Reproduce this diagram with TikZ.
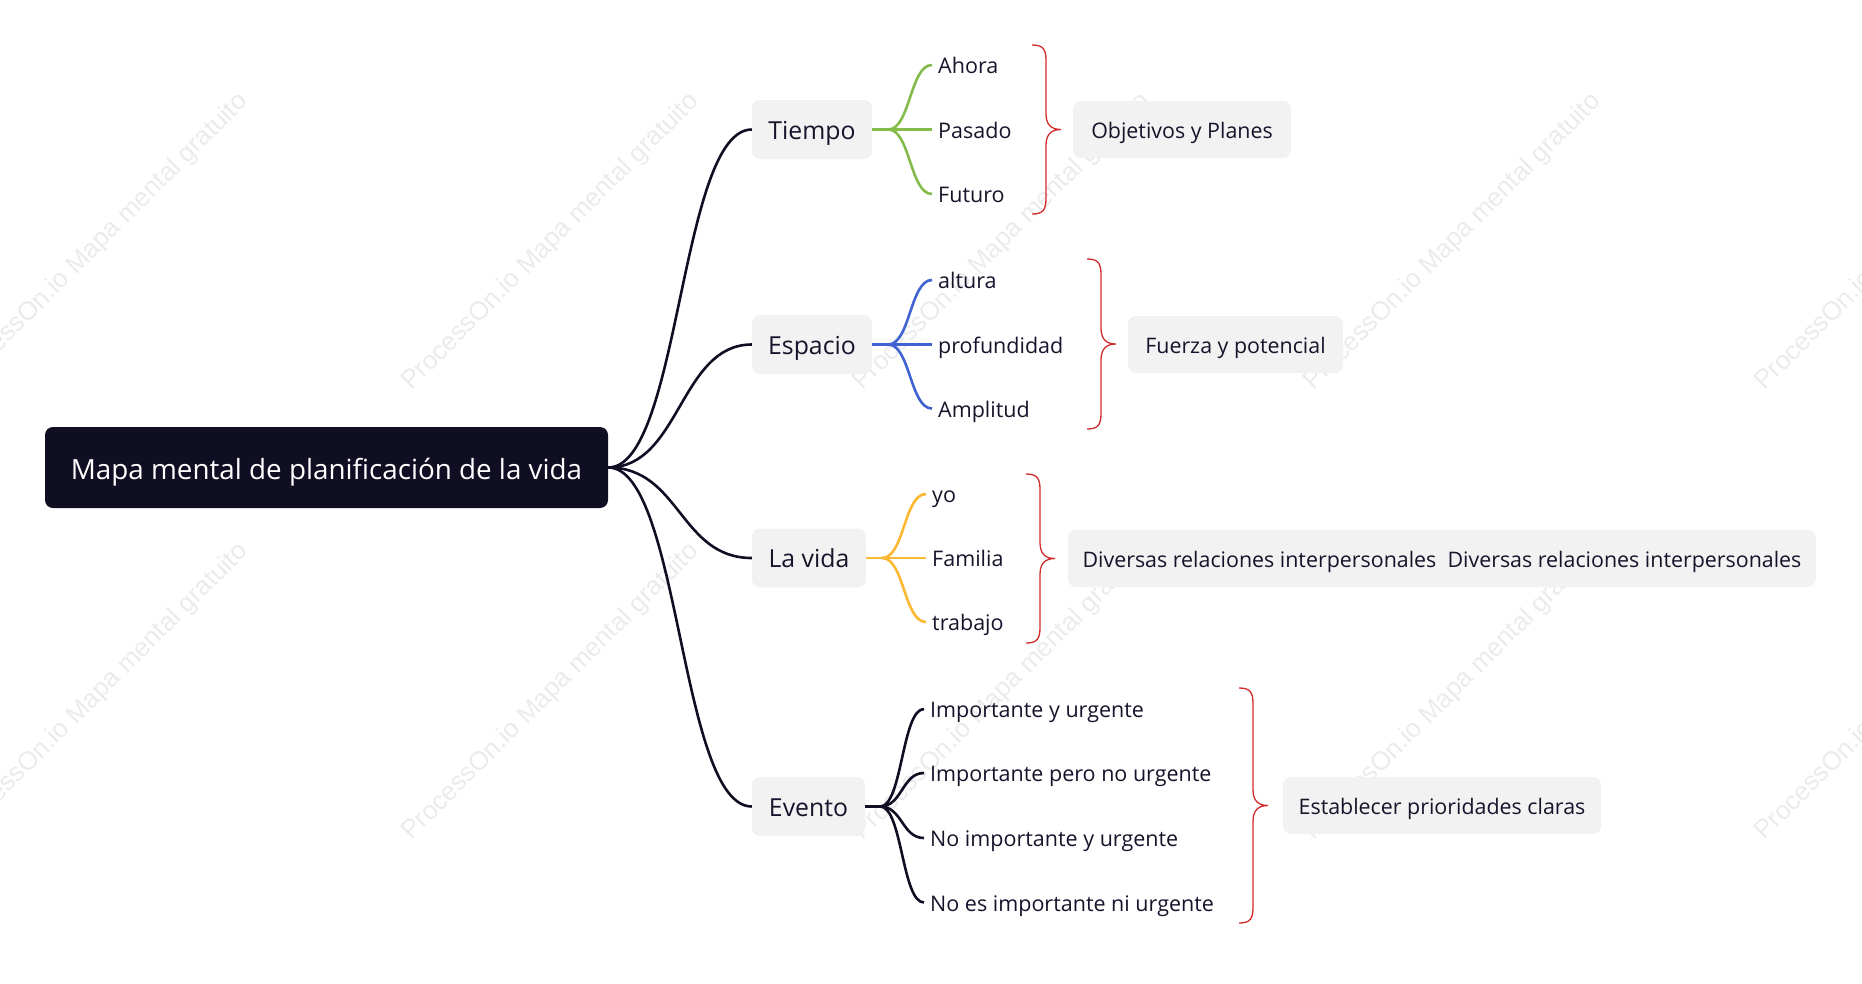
\documentclass[tikz,border=0pt]{standalone}
\usepackage{fontspec}
\setmainfont{Open Sans}
\newfontfamily\wmfont{Liberation Sans}
\definecolor{rootc}{HTML}{0F0E22}
\definecolor{txt}{HTML}{15142B}
\definecolor{boxc}{HTML}{F2F2F2}
\definecolor{grn}{HTML}{84BB4A}
\definecolor{blu}{HTML}{4163D1}
\definecolor{ylw}{HTML}{FBB832}
\definecolor{redc}{HTML}{D12B2B}
\definecolor{wmc}{HTML}{EBEBEB}
\tikzset{
  rootbox/.style={fill=rootc, rounded corners=8pt, text=white, minimum height=81pt, inner sep=0pt,
    text height=24.6pt, text depth=0pt, font=\fontsize{27.8}{32}\selectfont},
  lonebox/.style={fill=boxc, rounded corners=8pt, text=txt, minimum height=59pt, inner sep=0pt,
    text height=19pt, text depth=0pt, font=\fontsize{24.8}{29}\selectfont},
  ltwotext/.style={anchor=west, text=txt, inner xsep=6pt, inner ysep=2pt,
    text height=17pt, text depth=0pt, font=\fontsize{21.5}{25}\selectfont},
  sumbox/.style={fill=boxc, rounded corners=8pt, text=txt, minimum height=57pt, inner sep=0pt,
    text height=17.2pt, text depth=0pt, font=\fontsize{21.4}{25}\selectfont},
  rootconn/.style={draw=rootc, line width=2.6pt},
  branch/.style={line width=2.6pt},
  bracestyle/.style={draw=redc, line width=1.3pt},
  wmark/.style={text=wmc, rotate=45, font=\wmfont\fontsize{26}{30}\selectfont},
  pics/rbrace/.style={code={
    \draw[bracestyle] (0,-#1) .. controls (11,-#1) and (14,-#1+4) .. (14,-#1+16)
      -- (14,-16) .. controls (14,-5) and (19,0) .. (29,0)
      .. controls (19,0) and (14,5) .. (14,16)
      -- (14,#1-16) .. controls (14,#1-4) and (11,#1) .. (0,#1);
  }}
}
\begin{document}
\begin{tikzpicture}[x=1pt,y=-1pt]
\useasboundingbox (0,0) rectangle (1862,983);
% watermarks
\foreach \wx in {100,551,1002,1453,1904}
  \foreach \wy in {242,692}
    \node[wmark] at (\wx,\wy) {ProcessOn.io Mapa mental gratuito};

% root
\node[rootbox, minimum width=563pt] (root) at (326.5,467.5) {Mapa mental de planificación de la vida};

% level 1
\node[lonebox, minimum width=120pt] (tiempo) at (812,129.5) {Tiempo};
\node[lonebox, minimum width=120pt] (espacio) at (812,344.5) {Espacio};
\node[lonebox, minimum width=114pt] (lavida) at (809,558) {La vida};
\node[lonebox, minimum width=113pt] (evento) at (808.5,806.5) {Evento};

\foreach \n in {tiempo,espacio,lavida,evento}
  \draw[rootconn] (root.east) .. controls +(72,0) and +(-72,0) .. (\n.west);

% level 2 texts
\node[ltwotext] (ahora) at (932,65) {Ahora};
\node[ltwotext] (pasado) at (932,129.5) {Pasado};
\node[ltwotext] (futuro) at (932,194) {Futuro};

\node[ltwotext] (altura) at (932,280) {altura};
\node[ltwotext] (profundidad) at (932,344.5) {profundidad};
\node[ltwotext] (amplitud) at (932,408.5) {Amplitud};

\node[ltwotext] (yo) at (926,494) {yo};
\node[ltwotext] (familia) at (926,558) {Familia};
\node[ltwotext] (trabajo) at (926,622) {trabajo};

\node[ltwotext] (iu) at (924,709) {Importante y urgente};
\node[ltwotext] (ipnu) at (924,773) {Importante pero no urgente};
\node[ltwotext] (niu) at (924,838) {No importante y urgente};
\node[ltwotext] (neinu) at (924,902.5) {No es importante ni urgente};

% forks
\coordinate (ftiempo) at ([xshift=16pt]tiempo.east);
\coordinate (fespacio) at ([xshift=16pt]espacio.east);
\coordinate (flavida) at ([xshift=16pt]lavida.east);
\coordinate (fevento) at ([xshift=15pt]evento.east);

\draw[branch, draw=grn] (tiempo.east) -- (ftiempo);
\foreach \c in {ahora,pasado,futuro}
  \draw[branch, draw=grn] (ftiempo) .. controls +(22,0) and +(-22,0) .. (\c.west);
\draw[branch, draw=blu] (espacio.east) -- (fespacio);
\foreach \c in {altura,profundidad,amplitud}
  \draw[branch, draw=blu] (fespacio) .. controls +(22,0) and +(-22,0) .. (\c.west);
\draw[branch, draw=ylw] (lavida.east) -- (flavida);
\foreach \c in {yo,familia,trabajo}
  \draw[branch, draw=ylw] (flavida) .. controls +(22,0) and +(-22,0) .. (\c.west);
\draw[branch, draw=rootc] (evento.east) -- (fevento);
\foreach \c in {iu,ipnu,niu,neinu}
  \draw[branch, draw=rootc] (fevento) .. controls +(22,0) and +(-22,0) .. (\c.west);

% braces
\pic at (1032,129.5) {rbrace=84.5};
\pic at (1087,344) {rbrace=85};
\pic at (1026,558.5) {rbrace=84.5};
\pic at (1239,805.5) {rbrace=117.5};

% summaries
\node[sumbox, minimum width=218pt] (objetivos) at (1182,129.5) {Objetivos y Planes};
\node[sumbox, minimum width=215pt] (fuerza) at (1235.5,344.5) {Fuerza y potencial};
\node[sumbox, minimum width=748pt] (diversas) at (1442,558.5) {Diversas relaciones interpersonales\ \ Diversas relaciones interpersonales};
\node[sumbox, minimum width=318pt] (establecer) at (1442,805.5) {Establecer prioridades claras};
\end{tikzpicture}
\end{document}
